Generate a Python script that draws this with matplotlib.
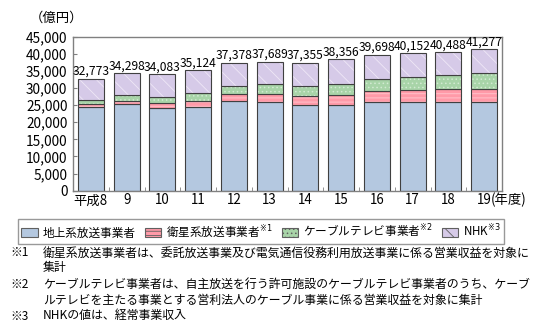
import matplotlib
matplotlib.use("Agg")
import matplotlib.pyplot as plt
import numpy as np
from matplotlib.patches import Patch

plt.rcParams["font.family"] = ["Noto Sans CJK JP", "DejaVu Sans"]
plt.rcParams["hatch.linewidth"] = 0.6

years = ["平成8", "9", "10", "11", "12", "13", "14", "15", "16", "17", "18", "19"]
terrestrial = [24600, 25450, 24300, 24600, 26300, 25800, 24900, 25150, 26000, 25840, 26000, 25900]
satellite = [650, 850, 1450, 1750, 2050, 2350, 2700, 2900, 3100, 3500, 3620, 3700]
cable = [1370, 1750, 1630, 2300, 2350, 3000, 3100, 3200, 3500, 3920, 4190, 4700]
nhk = [6153, 6248, 6703, 6474, 6678, 6539, 6655, 7106, 7098, 6892, 6678, 6977]
totals = [32773, 34298, 34083, 35124, 37378, 37689, 37355, 38356, 39698, 40152, 40488, 41277]

series = [
    ("地上系放送事業者", terrestrial, "#b4c8e0", "#b4c8e0", None),
    ("衛星系放送事業者", satellite, "#ff9aa8", "#ffc8d0", "----"),
    ("ケーブルテレビ事業者", cable, "#a8d4a8", "#d2ead2", "...."),
    ("NHK", nhk, "#d6cae8", "#efe8f6", "\\\\"),
]
legend_labels = ["地上系放送事業者", "衛星系放送事業者$^{※1}$",
                 "ケーブルテレビ事業者$^{※2}$", "NHK$^{※3}$"]

fig = plt.figure(figsize=(5.47, 3.31), dpi=100)
ax = fig.add_axes([73 / 547, 1 - 190.7 / 331, 429 / 547, 154 / 331])

x = np.arange(len(years))
width = 0.73
bottom = np.zeros(len(years))
handles = []
for (name, vals, face, hcol, hatch), lab in zip(series, legend_labels):
    vals = np.array(vals)
    ax.bar(x, vals, width, bottom=bottom, color=face, edgecolor=hcol,
           hatch=hatch, linewidth=0)
    ax.bar(x, vals, width, bottom=bottom, fill=False, edgecolor="#404040",
           linewidth=0.8)
    bottom += vals
    handles.append(Patch(facecolor=face, edgecolor="#606060", hatch=hatch,
                         linewidth=0.8, label=lab))

for xi, t in zip(x, totals):
    ax.text(xi, t + 250, f"{t:,}", ha="center", va="bottom", fontsize=8.7)

ax.set_xlim(-0.5, len(years) - 0.5)
ax.set_ylim(0, 45000)
ax.set_yticks(range(0, 45001, 5000))
ax.set_yticklabels([f"{v:,}" for v in range(0, 45001, 5000)], fontsize=9.8)
ax.set_xticks(x)
ax.set_xticklabels(years, fontsize=9.6)
ax.set_xticks(x[:-1] + 0.5, minor=True)
ax.tick_params(axis="x", which="major", length=0, pad=2)
ax.tick_params(axis="x", which="minor", length=3, direction="in", color="#808080")
ax.tick_params(axis="y", length=3, direction="in", color="#808080", pad=4)
for s in ax.spines.values():
    s.set_color("#808080")
    s.set_linewidth(1)

ax.text(len(years) - 1 + 0.19, -0.013, "(年度)", transform=ax.get_xaxis_transform(),
        ha="left", va="top", fontsize=9.6)
fig.text(30 / 547, 1 - 18 / 331, "（億円）", ha="left", va="center", fontsize=9.6)

leg = fig.legend(handles=handles, ncol=4, loc="center",
                 bbox_to_anchor=(261 / 547, 1 - 231.5 / 331), fontsize=8.4,
                 frameon=True, fancybox=False, edgecolor="#808080",
                 handlelength=1.4, handleheight=0.9, handletextpad=0.4,
                 columnspacing=0.8, borderpad=0.3)
leg.get_frame().set_linewidth(1)

notes = [
    (253, "※1", "衛星系放送事業者は、委託放送事業及び電気通信役務利用放送事業に係る営業収益を対象に"),
    (268, "", "集計"),
    (284, "※2", "ケーブルテレビ事業者は、自主放送を行う許可施設のケーブルテレビ事業者のうち、ケーブ"),
    (300, "", "ルテレビを主たる事業とする営利法人のケーブル事業に係る営業収益を対象に集計"),
    (316, "※3", "NHKの値は、経常事業収入"),
]
for y, mark, txt in notes:
    if mark:
        fig.text(10 / 547, 1 - y / 331, mark, ha="left", va="center", fontsize=8.6)
    fig.text(43 / 547, 1 - y / 331, txt, ha="left", va="center", fontsize=8.6)

fig.savefig("out.png", dpi=100)
